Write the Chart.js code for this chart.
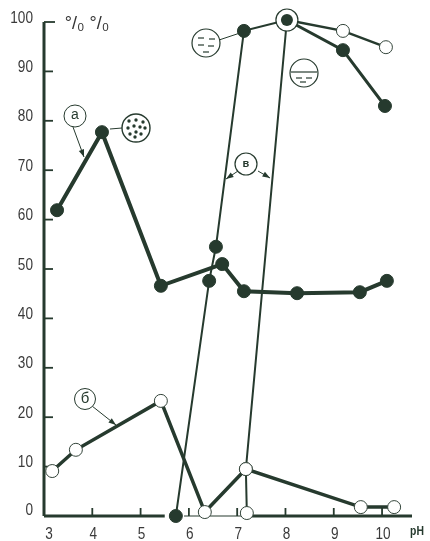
<!DOCTYPE html>
<html>
<head>
<meta charset="utf-8">
<title>pH</title>
<script src="https://cdn.jsdelivr.net/npm/chart.js@4"></script>
<style>
  html, body { margin: 0; padding: 0; background: #fff; }
  canvas { display: block; filter: blur(0.6px); }
</style>
</head>
<body>
<canvas id="myChart" width="430" height="541"></canvas>
<script>
var ink = "#263a2e";

// curve a
var a_ph = [3.27, 4.2, 5.42, 6.69, 7.14, 8.24, 9.54, 10.1];
var a_val = [61.9, 77.7, 46.6, 51, 45.5, 45.1, 45.3, 47.6];
// curve b (open circles)
var b_ph = [3.17, 3.66, 5.42, 6.33, 7.18, 9.56, 10.25];
var b_val = [9.1, 13.4, 23.3, 0.8, 9.5, 1.8, 1.8];
// curves v: steep rise on the left and right, then the two tails
var v1_ph = [5.73, 6.42, 6.56, 7.14, 8.03];
var v1_val = [0, 47.6, 54.5, 98.2, 100.4];
var v2_ph = [7.2, 7.18, 8.03];
var v2_val = [0.6, 9.5, 100.4];
var tail_open_ph = [8.03, 9.19, 10.08];
var tail_open_val = [100.4, 98.2, 94.9];
var tail_fill_ph = [8.03, 9.19, 10.06];
var tail_fill_val = [100.4, 94.3, 83];

var x_ticks = [3, 4, 5, 6, 7, 8, 9, 10];
var y_ticks = [0, 10, 20, 30, 40, 50, 60, 70, 80, 90, 100];

function pts(xs, ys) {
  return xs.map(function (x, i) { return { x: x, y: ys[i] }; });
}

function curve(xs, ys, width, filled, order, radius) {
  return {
    data: pts(xs, ys),
    borderColor: ink,
    borderWidth: width,
    backgroundColor: filled ? ink : "#fff",
    pointBackgroundColor: filled ? ink : "#fff",
    pointBorderColor: filled ? ink : "#33443a",
    pointBorderWidth: 1,
    pointRadius: radius || 6.5,
    tension: 0,
    clip: false,
    order: order
  };
}

// narrow digits: there is no condensed face, so squeeze the regular one
function narrowText(c, txt, x, y, align) {
  c.save();
  c.translate(x, y);
  c.scale(0.8, 1);
  c.textAlign = align;
  c.textBaseline = "middle";
  c.fillText(txt, 0, 0);
  c.restore();
}

// little drawn notes: circled letters, leader arrows, the small icons
function leader(c, x1, y1, x2, y2, head) {
  c.beginPath(); c.moveTo(x1, y1); c.lineTo(x2, y2); c.stroke();
  if (head) {
    var t = Math.atan2(y2 - y1, x2 - x1);
    c.beginPath();
    c.moveTo(x2, y2);
    c.lineTo(x2 - 8 * Math.cos(t - 0.35), y2 - 8 * Math.sin(t - 0.35));
    c.lineTo(x2 - 8 * Math.cos(t + 0.35), y2 - 8 * Math.sin(t + 0.35));
    c.closePath(); c.fill();
  }
}

function ring(c, x, y, r) {
  c.beginPath(); c.arc(x, y, r, 0, Math.PI * 2);
  c.fillStyle = "#fff"; c.fill(); c.stroke();
  c.fillStyle = ink;
}

var notes = {
  id: "notes",
  beforeDatasetsDraw: function (chart) {
    var c = chart.ctx, sx = chart.scales.x, sy = chart.scales.y;
    c.save();
    c.strokeStyle = ink; c.fillStyle = ink;
    // axes with ticks pointing inward
    c.lineWidth = 3;
    c.beginPath(); c.moveTo(sx.left, sy.top); c.lineTo(sx.left, sy.bottom); c.stroke();
    c.beginPath(); c.moveTo(sx.left, sy.bottom); c.lineTo(sx.getPixelForValue(5.5), sy.bottom); c.stroke();
    c.beginPath(); c.moveTo(sx.getPixelForValue(7.25), sy.bottom); c.lineTo(sx.right, sy.bottom); c.stroke();
    c.lineWidth = 1.2;
    c.beginPath(); c.moveTo(sx.getPixelForValue(5.9), sy.bottom); c.lineTo(sx.getPixelForValue(7.25), sy.bottom); c.stroke();
    c.lineWidth = 1.8;
    y_ticks.forEach(function (v) {
      if (v === 0) return;
      var py = sy.getPixelForValue(v);
      c.beginPath(); c.moveTo(sx.left, py); c.lineTo(sx.left + (v === 100 ? 11 : 9), py); c.stroke();
    });
    x_ticks.forEach(function (v) {
      if (v === 3) return;
      var px = sx.getPixelForValue(v);
      c.beginPath(); c.moveTo(px, sy.bottom); c.lineTo(px, sy.bottom - 8); c.stroke();
    });
    // tick labels
    c.fillStyle = "#3a3a3a";
    c.font = "17px 'Liberation Sans'";
    y_ticks.forEach(function (v) {
      narrowText(c, String(v), sx.left - 11, sy.getPixelForValue(v) - (v === 0 ? 6 : 4), "right");
    });
    x_ticks.forEach(function (v) {
      narrowText(c, String(v), sx.getPixelForValue(v) + (v === 3 ? 5 : 1), 534, "center");
    });
    c.restore();
  },
  afterDatasetsDraw: function (chart) {
    var c = chart.ctx, sx = chart.scales.x, sy = chart.scales.y;
    c.save();
    c.strokeStyle = ink; c.fillStyle = ink; c.lineWidth = 1;
    c.textAlign = "center"; c.textBaseline = "middle";

    // units
    c.font = "18px 'Liberation Sans'";
    c.fillStyle = "#333";
    c.fillText("°/₀ °/₀", 87, 24);
    c.fillStyle = ink;

    // a
    leader(c, 73, 127, 84, 157, true);
    ring(c, 75, 116, 11);
    c.font = "14px 'Liberation Sans'";
    c.fillText("а", 75, 115);
    // speckled icon
    leader(c, 110, 129, 122, 128, false);
    c.lineWidth = 1.4;
    ring(c, 136, 128, 14);
    [[-7, -7], [0, -8], [7, -6], [-8, 0], [-2, -2], [4, -1], [9, 0], [-6, 6], [0, 4], [5, 6], [-1, 9]].forEach(function (d) {
      c.beginPath(); c.arc(136 + d[0], 128 + d[1], 1.7, 0, Math.PI * 2); c.fill();
    });
    c.lineWidth = 1;

    // b
    leader(c, 92, 406, 116, 425, true);
    ring(c, 85, 399, 10.5);
    c.font = "15px 'Liberation Sans'";
    c.fillText("б", 85, 399);

    // v
    leader(c, 238, 171, 226, 179, true);
    leader(c, 258, 171, 270, 178, true);
    c.lineWidth = 1.2;
    ring(c, 246, 164, 11);
    c.font = "bold 11px 'Liberation Sans'";
    c.fillText("в", 246, 164);

    // water icon on the left
    c.lineWidth = 1;
    leader(c, 219, 40, 240, 33, false);
    c.lineWidth = 1.2;
    ring(c, 206, 43, 14);
    [[-8, -5], [3, -4], [-8, 2], [2, 3], [-3, 9]].forEach(function (d) {
      c.beginPath(); c.moveTo(206 + d[0], 43 + d[1]); c.lineTo(206 + d[0] + 6, 43 + d[1]); c.stroke();
    });

    // water icon on the right
    ring(c, 304, 73, 14);
    c.beginPath(); c.moveTo(291, 72); c.lineTo(317, 72); c.stroke();
    [[-8, 5], [2, 5], [-4, 9]].forEach(function (d) {
      c.beginPath(); c.moveTo(304 + d[0], 73 + d[1]); c.lineTo(304 + d[0] + 6, 73 + d[1]); c.stroke();
    });

    // ring round the top point
    var topX = sx.getPixelForValue(8.03), topY = sy.getPixelForValue(100.4);
    ring(c, topX, topY, 11);
    c.beginPath(); c.arc(topX, topY, 6, 0, Math.PI * 2); c.fill();

    // pH
    c.font = "bold 13px 'Liberation Sans'";
    narrowText(c, "pH", 417, 531, "center");
    c.restore();
  }
};

var ctx = document.getElementById('myChart').getContext('2d');
var myChart = new Chart(ctx, {
  type: 'line',
  data: {
    datasets: [
      curve(a_ph, a_val, 4, true, 3),
      curve(b_ph, b_val, 3.5, false, 1),
      curve(v1_ph, v1_val, 2, true, 2),
      curve(v2_ph, v2_val, 2, false, 2),
      curve(tail_open_ph, tail_open_val, 2.5, false, 2),
      curve(tail_fill_ph, tail_fill_val, 3, true, 2)
    ]
  },
  options: {
    responsive: false,
    animation: false,
    layout: { padding: { top: 22, right: 18, left: 0, bottom: 0 } },
    plugins: { legend: { display: false }, tooltip: { enabled: false } },
    scales: {
      x: {
        type: 'linear',
        min: 3,
        max: 10.62,
        border: { display: false },
        grid: { display: false },
        afterBuildTicks: function (s) { s.ticks = x_ticks.map(function (v) { return { value: v }; }); },
        afterFit: function (s) { s.height = 25; },
        ticks: { display: false }
      },
      y: {
        min: 0,
        max: 100,
        border: { display: false },
        grid: { display: false },
        afterBuildTicks: function (s) { s.ticks = y_ticks.map(function (v) { return { value: v }; }); },
        afterFit: function (s) { s.width = 44; },
        ticks: { display: false }
      }
    }
  },
  plugins: [notes]
});
</script>
</body>
</html>
